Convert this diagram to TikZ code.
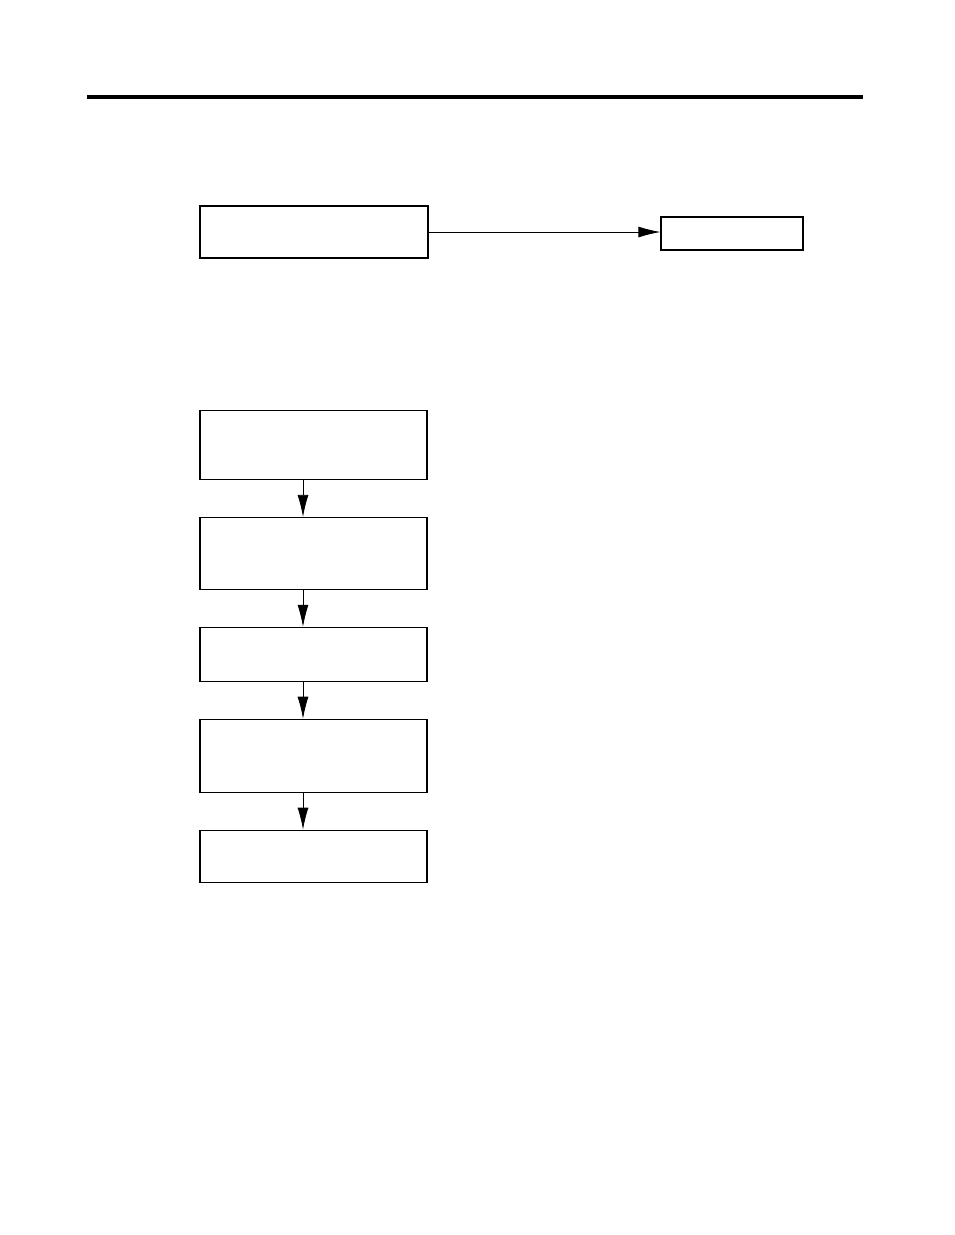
\documentclass[tikz,border=0pt]{standalone}
\usetikzlibrary{arrows.meta, positioning}

\begin{document}
\begin{tikzpicture}[x=1pt,y=-1pt,node distance=36.6pt,>={Latex[length=22pt,width=11pt]}]
	\tikzset{box/.style={draw, line width=1.3pt, minimum width=227pt, inner sep=0pt}}
	
	\useasboundingbox (0,0) rectangle (954,1235);
	\draw [line width=3.5pt] (87,97) -- (863,97);
	
	\node (start) [box, minimum width=228pt, minimum height=52pt] at (314,232) {};
	\node (side) [box, minimum width=142pt, minimum height=33pt] at (732,233.5) {};
	
	\node (s1) [box, minimum height=69pt, anchor=north] at (313.5,410) {};
	\node (s2) [box, minimum height=72pt, below=of s1] {};
	\node (s3) [box, minimum height=54pt, below=of s2] {};
	\node (s4) [box, minimum height=73pt, below=of s3] {};
	\node (s5) [box, minimum height=52pt, below=of s4] {};
	
	\path [->, line width=0.8pt]
	(start.east) edge (start.east -| side.west)
	
	([xshift=-10.5pt]s1.south) edge ([xshift=-10.5pt]s2.north)
	([xshift=-10.5pt]s2.south) edge ([xshift=-10.5pt]s3.north)
	([xshift=-10.5pt]s3.south) edge ([xshift=-10.5pt]s4.north)
	([xshift=-10.5pt]s4.south) edge ([xshift=-10.5pt]s5.north);
	
\end{tikzpicture}
\end{document}
